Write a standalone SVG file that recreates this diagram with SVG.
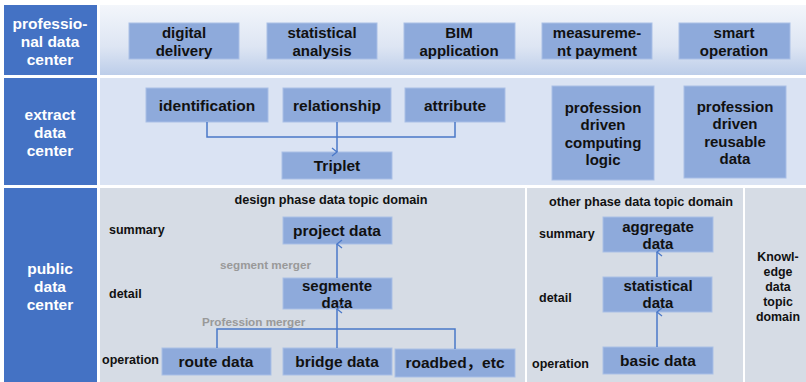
<svg xmlns="http://www.w3.org/2000/svg" width="806" height="382" viewBox="0 0 806 382">
  <defs>
    <linearGradient id="topBand" x1="0" y1="0" x2="0" y2="1">
      <stop offset="0" stop-color="#f3f6fb"/>
      <stop offset="0.6" stop-color="#dde5f3"/>
      <stop offset="1" stop-color="#bccde9"/>
    </linearGradient>
    <marker id="arrow" viewBox="0 0 10 10" refX="5" refY="1" markerWidth="10" markerHeight="10" markerUnits="userSpaceOnUse" orient="auto-start-reverse">
      <path d="M1,6 L5,1 L9,6" fill="none" stroke="#4a78c8" stroke-width="1.3"/>
    </marker>
    <style>
      text { font-family: "Liberation Sans", "Noto Sans CJK SC", sans-serif; font-weight: bold; dominant-baseline: central; }
      .side { fill: #4472c4; }
      .sideText { font-size: 15.5px; fill: #ffffff; text-anchor: middle; }
      .box { fill: #8eaadb; stroke: #a9bfe6; stroke-width: 1; }
      .boxText { font-size: 15px; fill: #111111; text-anchor: middle; }
      .big { font-size: 15.5px; }
      .label { font-size: 12.5px; fill: #111111; }
      .title { font-size: 12.7px; fill: #111111; text-anchor: middle; }
      .know { font-size: 12.4px; fill: #111111; text-anchor: middle; }
      .merge { font-size: 11.7px; fill: #999999; }
      .conn { fill: none; stroke: #4a78c8; stroke-width: 1.5; }
    </style>
  </defs>

  <rect width="806" height="382" fill="#ffffff"/>

  <!-- band backgrounds -->
  <rect x="100" y="5" width="706" height="70" fill="url(#topBand)"/>
  <rect x="100" y="78" width="706" height="107" fill="#dae3f3"/>
  <rect x="100" y="188" width="425" height="194" fill="#d6dce5"/>
  <rect x="527" y="188" width="216" height="194" fill="#d6dce5"/>
  <rect x="745" y="188" width="61" height="194" fill="#d6dce5"/>

  <!-- band headers -->
  <g id="professional-data-center">
    <rect class="side" x="4" y="5" width="93" height="70"/>
    <text class="sideText" x="50" y="23">professio-</text>
    <text class="sideText" x="50" y="41">nal data</text>
    <text class="sideText" x="50" y="59">center</text>
  </g>
  <g id="extract-data-center">
    <rect class="side" x="4" y="78" width="93" height="107"/>
    <text class="sideText" x="50" y="114">extract</text>
    <text class="sideText" x="50" y="132">data</text>
    <text class="sideText" x="50" y="150">center</text>
  </g>
  <g id="public-data-center">
    <rect class="side" x="4" y="188" width="93" height="194"/>
    <text class="sideText" x="50" y="268">public</text>
    <text class="sideText" x="50" y="286">data</text>
    <text class="sideText" x="50" y="304">center</text>
  </g>

  <!-- professional applications -->
  <g id="digital-delivery">
    <rect class="box" x="129" y="23" width="110" height="36"/>
    <text class="boxText" x="184" y="32">digital</text>
    <text class="boxText" x="184" y="50">delivery</text>
  </g>
  <g id="statistical-analysis">
    <rect class="box" x="267" y="23" width="110" height="36"/>
    <text class="boxText" x="322" y="32">statistical</text>
    <text class="boxText" x="322" y="50">analysis</text>
  </g>
  <g id="bim-application">
    <rect class="box" x="404" y="23" width="111" height="36"/>
    <text class="boxText" x="459" y="32">BIM</text>
    <text class="boxText" x="459" y="50">application</text>
  </g>
  <g id="measurement-payment">
    <rect class="box" x="542" y="23" width="110" height="36"/>
    <text class="boxText" x="597" y="32">measureme-</text>
    <text class="boxText" x="597" y="50">nt payment</text>
  </g>
  <g id="smart-operation">
    <rect class="box" x="679" y="23" width="111" height="36"/>
    <text class="boxText" x="734" y="32">smart</text>
    <text class="boxText" x="734" y="50">operation</text>
  </g>

  <!-- extract layer -->
  <g id="identification">
    <rect class="box" x="146" y="88" width="122" height="34"/>
    <text class="boxText big" x="207" y="105">identification</text>
  </g>
  <g id="relationship">
    <rect class="box" x="283" y="88" width="108" height="34"/>
    <text class="boxText big" x="337" y="105">relationship</text>
  </g>
  <g id="attribute">
    <rect class="box" x="405" y="88" width="100" height="34"/>
    <text class="boxText big" x="455" y="105">attribute</text>
  </g>
  <g id="triplet">
    <rect class="box" x="282" y="152" width="110" height="27"/>
    <text class="boxText big" x="337" y="165">Triplet</text>
  </g>
  <g id="computing-logic">
    <rect class="box" x="552" y="86" width="102" height="94"/>
    <text class="boxText" x="603" y="107">profession</text>
    <text class="boxText" x="603" y="124.5">driven</text>
    <text class="boxText" x="603" y="142">computing</text>
    <text class="boxText" x="603" y="159.5">logic</text>
  </g>
  <g id="reusable-data">
    <rect class="box" x="684" y="86" width="102" height="92"/>
    <text class="boxText" x="735" y="106">profession</text>
    <text class="boxText" x="735" y="123.5">driven</text>
    <text class="boxText" x="735" y="141">reusable</text>
    <text class="boxText" x="735" y="158.5">data</text>
  </g>

  <!-- design phase topic domain -->
  <g id="design-phase-domain">
    <text class="title" x="331" y="200">design phase data topic domain</text>
    <text class="label" x="109" y="230">summary</text>
    <text class="label" x="109" y="294">detail</text>
    <text class="label" x="102" y="360">operation</text>
    <text class="merge" x="220" y="264">segment merger</text>
    <text class="merge" x="202" y="321">Profession merger</text>
  </g>
  <g id="project-data">
    <rect class="box" x="283" y="217" width="109" height="27"/>
    <text class="boxText big" x="337" y="230">project data</text>
  </g>
  <g id="segmente-data">
    <rect class="box" x="283" y="278" width="109" height="31"/>
    <text class="boxText" x="337" y="285">segmente</text>
    <text class="boxText" x="337" y="302.5">data</text>
  </g>
  <g id="route-data">
    <rect class="box" x="162" y="348" width="109" height="27"/>
    <text class="boxText big" x="216" y="361">route data</text>
  </g>
  <g id="bridge-data">
    <rect class="box" x="283" y="348" width="109" height="27"/>
    <text class="boxText big" x="337" y="361">bridge data</text>
  </g>
  <g id="roadbed-etc">
    <rect class="box" x="395" y="349" width="120" height="28"/>
    <text class="boxText big" x="455" y="362">roadbed，etc</text>
  </g>

  <!-- other phase topic domain -->
  <g id="other-phase-domain">
    <text class="title" x="641" y="202">other phase data topic domain</text>
    <text class="label" x="539" y="234">summary</text>
    <text class="label" x="539" y="298">detail</text>
    <text class="label" x="532" y="364">operation</text>
  </g>
  <g id="aggregate-data">
    <rect class="box" x="603" y="217" width="110" height="35"/>
    <text class="boxText" x="658" y="226">aggregate</text>
    <text class="boxText" x="658" y="243.5">data</text>
  </g>
  <g id="statistical-data">
    <rect class="box" x="603" y="277" width="109" height="35"/>
    <text class="boxText" x="658" y="285">statistical</text>
    <text class="boxText" x="658" y="302.5">data</text>
  </g>
  <g id="basic-data">
    <rect class="box" x="603" y="347" width="110" height="27"/>
    <text class="boxText big" x="658" y="360">basic data</text>
  </g>

  <!-- knowledge topic domain -->
  <g id="knowledge-domain">
    <text class="know" x="778" y="257">Knowl-</text>
    <text class="know" x="778" y="272">edge</text>
    <text class="know" x="778" y="287">data</text>
    <text class="know" x="778" y="302">topic</text>
    <text class="know" x="778" y="317">domain</text>
  </g>

  <!-- connectors -->
  <g id="connectors">
    <path class="conn" d="M207,122 V137 H455 V122"/>
    <path class="conn" d="M337,122 V152" marker-end="url(#arrow)"/>
    <path class="conn" d="M337,278 V244" marker-end="url(#arrow)"/>
    <path class="conn" d="M217,348 V329 H455 V349"/>
    <path class="conn" d="M337,348 V309" marker-end="url(#arrow)"/>
    <path class="conn" d="M657,277 V252" marker-end="url(#arrow)"/>
    <path class="conn" d="M657,347 V312" marker-end="url(#arrow)"/>
  </g>
</svg>
